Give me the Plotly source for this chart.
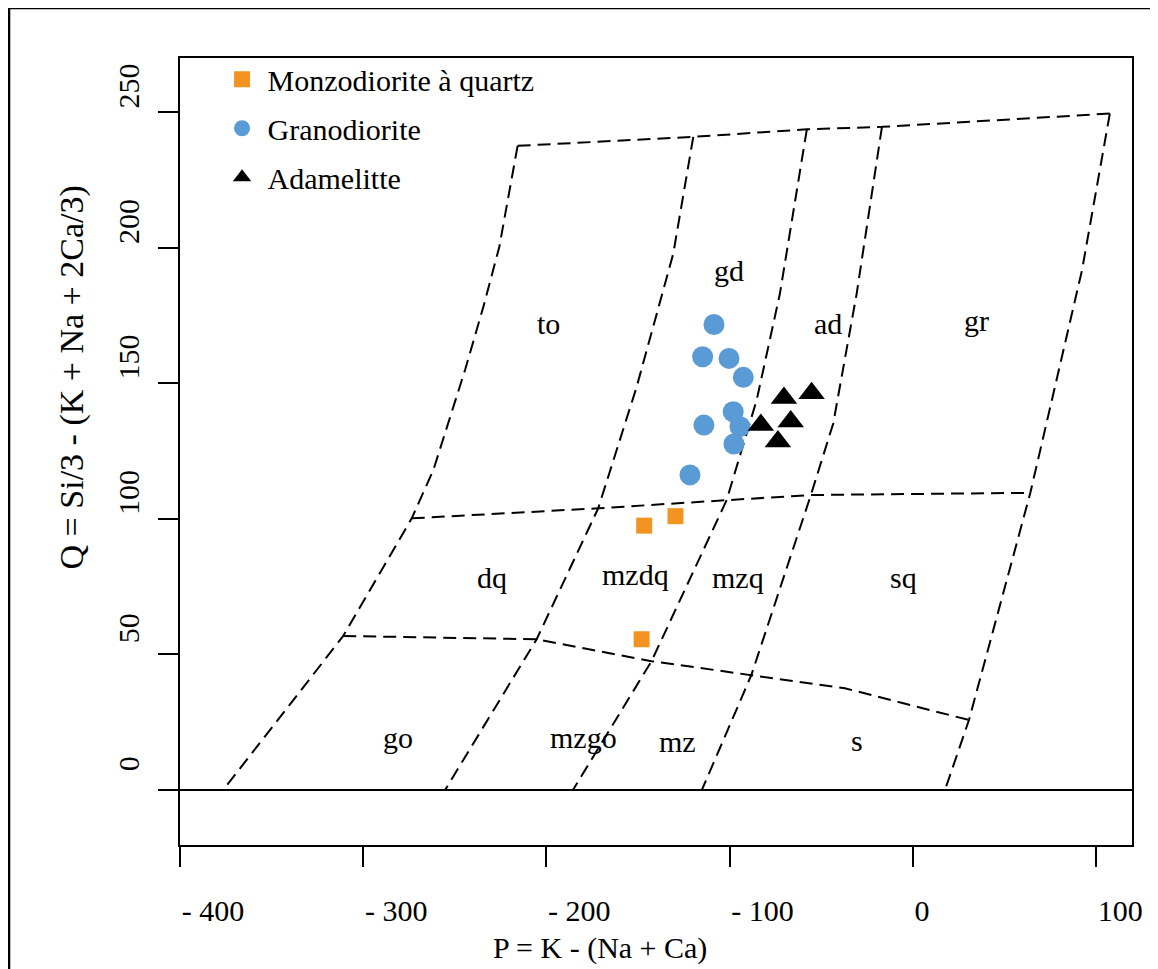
import plotly.graph_objects as go

# sample points (P, Q)
mzq_x = [-146.6, -129.5, -148.0]
mzq_y = [97.5, 101.0, 55.6]
grd_x = [-108.5, -114.7, -100.3, -92.5, -98.0, -114.0, -94.3, -97.6, -121.6]
grd_y = [171.7, 159.8, 159.2, 152.2, 139.5, 134.6, 134.0, 127.6, 116.2]
adm_x = [-70.3, -55.2, -82.9, -66.6, -73.6]
adm_y = [144.6, 146.3, 134.6, 135.9, 128.5]

# field boundaries of the P-Q diagram
top_x = [-215.7, -119.8, -57.8, -16.8, 107.6]
top_y = [237.6, 240.9, 243.7, 244.6, 249.5]
mid_x = [-273.5, -171.7, -101.6, -55.6, 64.2]
mid_y = [100.2, 103.9, 106.9, 108.8, 109.6]
low_x = [-310.9, -205.3, -142.6, -88.1, -37.0, 30.7]
low_y = [56.8, 55.6, 47.5, 42.4, 37.5, 25.8]
left_x = [-215.7, -225.7, -234.4, -244.4, -261.7, -273.5, -310.9, -376.4]
left_y = [237.6, 200.3, 178.2, 154.9, 118.0, 100.2, 56.8, 0]
a_x = [-119.8, -130.7, -140.7, -150.7, -171.7, -205.3, -255.3]
a_y = [240.9, 197.9, 173.3, 148.7, 103.9, 55.6, 0]
b_x = [-57.8, -72.5, -85.2, -101.6, -142.6, -185.5]
b_y = [243.7, 183.1, 143.8, 106.9, 47.5, 0]
c_x = [-16.8, -30.6, -43.4, -55.6, -88.1, -115.1]
c_y = [244.6, 183.1, 135.2, 108.8, 42.4, 0]
d_x = [107.6, 92.4, 64.2, 30.7, 17.6]
d_y = [249.5, 191.7, 109.6, 25.8, 0]

field_names = ["to", "gd", "ad", "gr", "dq", "mzdq", "mzq", "sq", "go", "mzgo", "mz", "s"]
field_x = [-199, -100.2, -46.3, 35, -229.7, -151.1, -95.4, -5.3, -281, -179.5, -128.2, -30.5]
field_y = [172.2, 191.7, 172.2, 173.3, 78.2, 79.3, 78.5, 78.5, 19.2, 19.2, 17.7, 18.4]

x_ticks = [-400, -300, -200, -100, 0, 100]
x_ticktext = ["- 400", "- 300", "- 200", "- 100", "0", "100"]
y_ticks = [0, 50, 100, 150, 200, 250]

FONT = "Liberation Serif"

fig = go.Figure()

for bx, by in [(top_x, top_y), (mid_x, mid_y), (low_x, low_y), (left_x, left_y),
               (a_x, a_y), (b_x, b_y), (c_x, c_y), (d_x, d_y)]:
    fig.add_trace(go.Scatter(x=bx, y=by, mode="lines", showlegend=False, hoverinfo="skip",
                             line=dict(color="black", width=2, dash="13px,7px")))

fig.add_trace(go.Scatter(x=mzq_x, y=mzq_y, mode="markers", name="Monzodiorite à quartz",
                         legendgroup="a", marker=dict(symbol="square", size=16, color="#F39322")))
fig.add_trace(go.Scatter(x=grd_x, y=grd_y, mode="markers", name="Granodiorite",
                         legendgroup="b", marker=dict(symbol="circle", size=21, color="#5B9BD5")))
fig.add_trace(go.Scatter(x=adm_x, y=adm_y, mode="markers", name="Adamelitte",
                         legendgroup="c", marker=dict(symbol="triangle-up", size=23, color="black")))

for name, fx, fy in zip(field_names, field_x, field_y):
    fig.add_annotation(x=fx, y=fy, text=name, showarrow=False,
                       font=dict(family=FONT, size=30, color="black"))

# axis titles
fig.add_annotation(xref="paper", yref="paper", x=0.441, y=-0.1309, xanchor="center", yanchor="middle",
                   text="P = K - (Na + Ca)", showarrow=False,
                   font=dict(family=FONT, size=30, color="black"))
fig.add_annotation(xref="paper", yref="paper", x=-0.114, y=0.5947, xanchor="center", yanchor="middle",
                   textangle=-90, text="Q = Si/3 - (K + Na + 2Ca/3)", showarrow=False,
                   font=dict(family=FONT, size=34, color="black"))

# outer frame
fig.add_shape(type="line", xref="paper", yref="paper", x0=-0.1796, x1=1.03, y0=1.0635, y1=1.0635,
              line=dict(color="black", width=2.5))
fig.add_shape(type="line", xref="paper", yref="paper", x0=-0.1796, x1=-0.1796, y0=1.0635, y1=-0.17,
              line=dict(color="black", width=2.5))

fig.update_layout(
    width=1150, height=961,
    margin=dict(l=172, r=26, t=50, b=124),
    plot_bgcolor="white", paper_bgcolor="white",
    font=dict(family=FONT, size=30, color="black"),
    legend=dict(x=0.0384, y=1.006, xanchor="left", yanchor="top", bgcolor="rgba(0,0,0,0)",
                tracegroupgap=7, itemwidth=41, font=dict(family=FONT, size=30)),
    xaxis=dict(range=[-400, 119.7], tickvals=x_ticks, ticktext=x_ticktext,
               ticks="outside", ticklen=20, tickwidth=1.5, tickcolor="black",
               ticklabelposition="outside right", ticklabelstandoff=38,
               showline=True, linecolor="black", linewidth=2, mirror=True,
               showgrid=False, zeroline=False),
    yaxis=dict(range=[-20.3, 270], tickvals=y_ticks, tickangle=-90,
               ticks="outside", ticklen=20, tickwidth=1.5, tickcolor="black",
               ticklabelposition="outside top", ticklabelstandoff=27,
               showline=True, linecolor="black", linewidth=2, mirror=True,
               showgrid=False, zeroline=True, zerolinecolor="black", zerolinewidth=1.5),
)

fig.write_html("out.html")
